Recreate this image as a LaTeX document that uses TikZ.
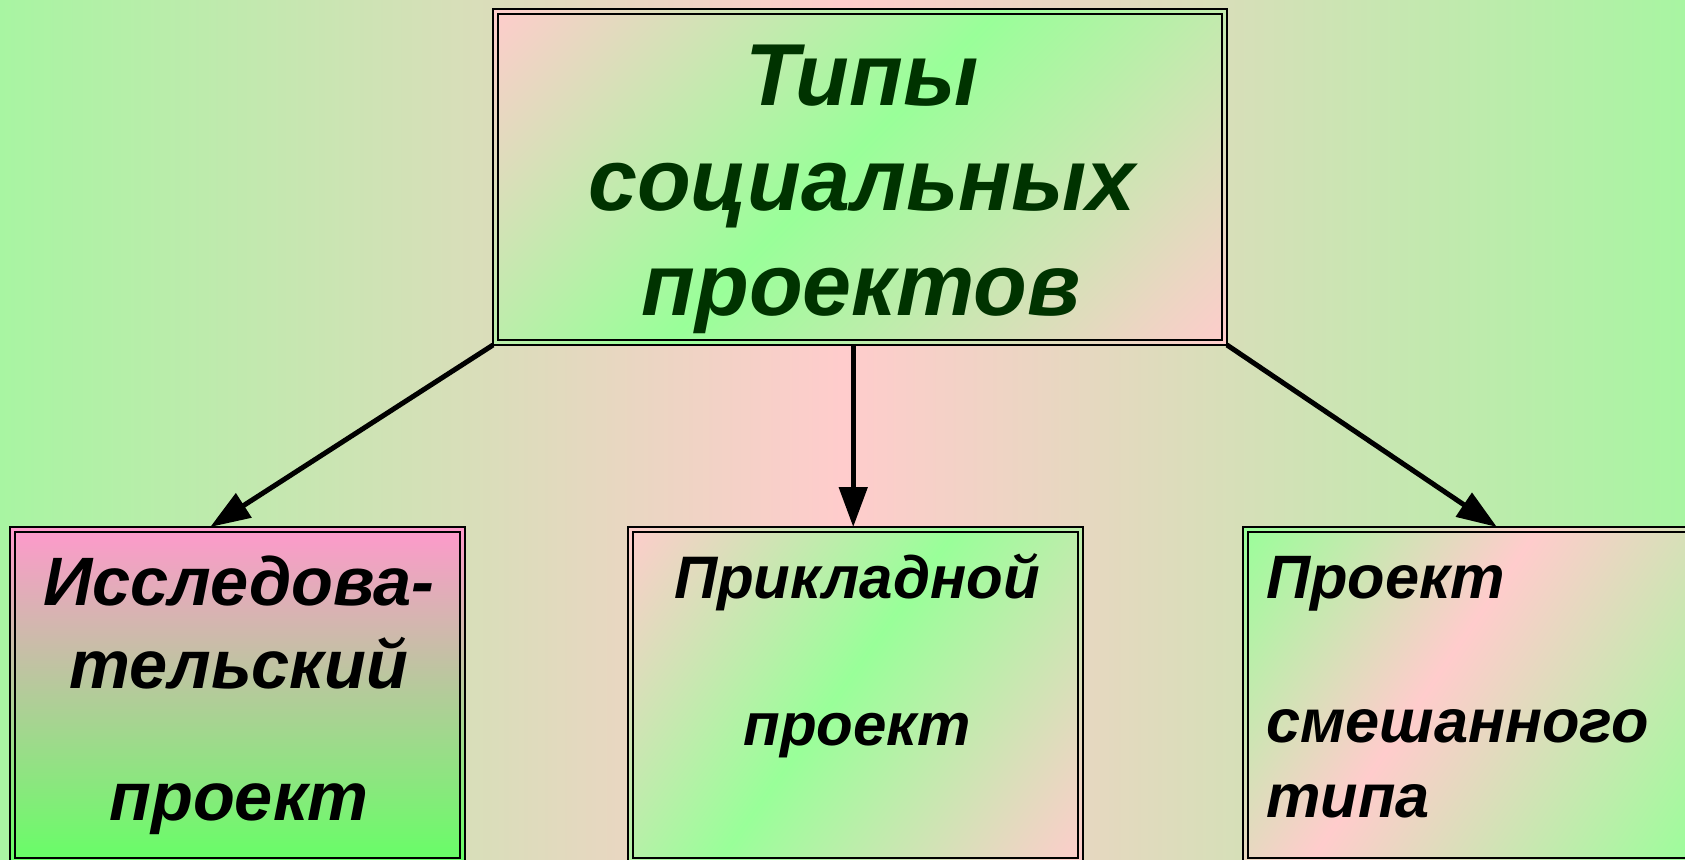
\documentclass[tikz,border=0pt]{standalone}
\usepackage{fontspec}
\setmainfont{Liberation Sans}
\usetikzlibrary{arrows.meta,calc}
\definecolor{bggreen}{RGB}{168,245,162}
\definecolor{pinkc}{RGB}{255,204,204}
\definecolor{greenc}{RGB}{153,255,153}
\definecolor{rosec}{RGB}{255,153,204}
\definecolor{limec}{RGB}{102,255,102}
\definecolor{titlec}{RGB}{0,51,0}
\pgfdeclareverticalshading{pgdiag}{100bp}{color(0bp)=(pinkc); color(25bp)=(pinkc); color(48.7bp)=(greenc); color(75bp)=(pinkc); color(100bp)=(pinkc)}
\pgfdeclareverticalshading{gpdiag}{100bp}{color(0bp)=(greenc); color(25bp)=(greenc); color(46.6bp)=(pinkc); color(75bp)=(greenc); color(100bp)=(greenc)}
\begin{document}
\begin{tikzpicture}[x=1pt,y=-1pt,
  box/.style={rectangle, draw=black, line width=2.6pt, inner sep=0pt, outer sep=0pt, minimum width=455pt, minimum height=336pt},
  vshade/.style={top color=rosec, bottom color=limec},
  innerline/.style={draw=black, line width=2.4pt},
  arr/.style={line width=5pt, -{Triangle[length=40pt,width=28pt]}},
  ttl/.style={font=\bfseries\itshape\fontsize{88}{105}\selectfont, text=titlec, anchor=base, inner sep=0pt},
  bigtxt/.style={font=\bfseries\itshape\fontsize{68.5}{80}\selectfont, text=black, anchor=base, inner sep=0pt},
  medtxt/.style={font=\bfseries\itshape\fontsize{60}{72}\selectfont, text=black, anchor=base, inner sep=0pt},
  rtxt/.style={font=\bfseries\itshape\fontsize{61.3}{72}\selectfont, text=black, anchor=base west, inner sep=0pt},
]
\useasboundingbox (0,0) rectangle (1685,859);
\clip (0,0) rectangle (1685,859);
\shade[left color=bggreen, right color=bggreen, middle color=pinkc] (0,0) rectangle (1685,859);

% diagonal gradient fills of the boxes
\begin{scope}
  \clip (493,9) rectangle (1227,345);
  \begin{scope}[transform canvas={cm={7.34,7.34,0,-10.70,(493,9)}}]
    \shade[shading=pgdiag] (0,0) rectangle (100,-100);
  \end{scope}
\end{scope}
\begin{scope}
  \clip (628,527) rectangle (1083,863);
  \begin{scope}[transform canvas={cm={4.55,6.37,0,-9.73,(628,527)}}]
    \shade[shading=pgdiag] (0,0) rectangle (100,-100);
  \end{scope}
\end{scope}
\begin{scope}
  \clip (1243,527) rectangle (1698,863);
  \begin{scope}[transform canvas={cm={4.55,6.64,0,-10.00,(1243,527)}}]
    \shade[shading=gpdiag] (0,0) rectangle (100,-100);
  \end{scope}
\end{scope}

\node[box, minimum width=734pt, minimum height=336pt] (top) at (860,177) {};
\node[box, vshade] (b1) at (237.5,695) {};
\node[box] (b2) at (855.5,695) {};
\node[box] (b3) at (1470.5,695) {};

\foreach \n in {top,b1,b2,b3}
  \draw[innerline] ([shift={(5,5)}]\n.north west) rectangle ([shift={(-5,-5)}]\n.south east);

\coordinate (e1) at ($(b1.north west)!0.44!(b1.north east)$);
\coordinate (e2) at ($(b2.north west)!0.495!(b2.north east)$);
\coordinate (e3) at ($(b3.north west)!0.558!(b3.north east)$);
\draw[arr] (top.south west) -- (e1);
\draw[arr] (top.south -| e2) -- (e2);
\draw[arr] (top.south east) -- (e3);

\node[ttl] (t1) at (862,105) {Типы};
\node[ttl] (t2) at (862,210) {социальных};
\node[ttl] (t3) at (861,315) {проектов};

\node[bigtxt] (l1) at (239,605) {Исследова-};
\node[bigtxt] (l2) at (239,688) {тельский};
\node[bigtxt] (l3) at (239,820) {проект};

\node[medtxt] (m1) at (857,598) {Прикладной};
\node[medtxt] (m2) at (857,745) {проект};

\node[rtxt] (r1) at (1266,598) {Проект};
\node[rtxt] (r2) at (1266,742) {смешанного};
\node[rtxt] (r3) at (1266,817) {типа};
\end{tikzpicture}
\end{document}
